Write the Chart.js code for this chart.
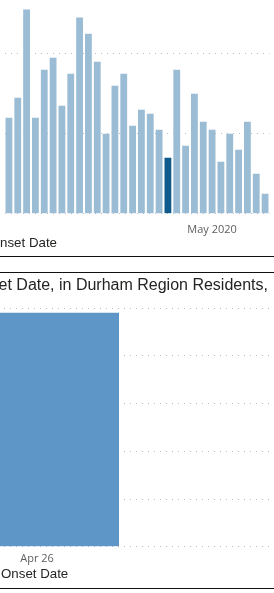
<!DOCTYPE html>
<html>
<head>
<meta charset="utf-8">
<script src="https://cdn.jsdelivr.net/npm/chart.js@4"></script>
<style>
body { margin: 0; width: 274px; height: 593px; overflow: hidden; position: relative; background: #fff; }
canvas { position: absolute; }
.rule { position: absolute; left: 0; width: 274px; height: 1px; background: #111; }
.axis-title { position: absolute; white-space: nowrap; font-family: 'Liberation Sans', sans-serif; font-size: 13.3px; line-height: 14px; color: #252423; }
.chart-title { position: absolute; right: 6px; top: 276px; white-space: nowrap; font-family: 'Liberation Sans', sans-serif; font-size: 16px; line-height: 18px; color: #252423; }
</style>
</head>
<body>
<canvas id="canvas_onset" width="274" height="245" style="left:0;top:0"></canvas>
<div class="axis-title" style="right:217px;top:236px">Onset Date</div>
<div class="rule" style="top:256px"></div>
<div class="rule" style="top:272px"></div>
<div class="chart-title">Cases by Onset Date, in Durham Region Residents,</div>
<canvas id="canvas_day" width="474" height="268" style="left:-200px;top:302px"></canvas>
<div class="axis-title" style="left:1px;top:567px">Onset Date</div>
<div class="rule" style="top:588px"></div>
<script>
// daily cases by onset date (top chart)
var onsetDates = ['Apr 8', 'Apr 9', 'Apr 10', 'Apr 11', 'Apr 12', 'Apr 13', 'Apr 14', 'Apr 15', 'Apr 16', 'Apr 17',
    'Apr 18', 'Apr 19', 'Apr 20', 'Apr 21', 'Apr 22', 'Apr 23', 'Apr 24', 'Apr 25', 'Apr 26', 'Apr 27',
    'Apr 28', 'Apr 29', 'Apr 30', 'May 1', 'May 2', 'May 3', 'May 4', 'May 5', 'May 6', 'May 7'];
var dailyCases = [24, 29, 51, 24, 36, 39, 27, 35, 49, 45,
    38, 20, 32, 35, 22, 26, 25, 21, 14, 36,
    17, 30, 23, 21, 13, 20, 16, 23, 10, 5];
var selectedDate = 'Apr 26';
var monthTickDate = 'May 1';
var monthTickLabel = 'May 2020';

// selected day (bottom chart)
var dayCategories = ['Apr 26'];
var dayCases = [49];

const LIGHT = '#9ABCD4';
const DARK = '#0E5A8C';
const DAY_BLUE = '#5F96C8';
const GRID = '#BEBCBA';
const TICK = '#605E5C';
const tickFont = { family: 'Open Sans', size: 11 };

const ctx = document.getElementById('canvas_onset').getContext('2d');
const chart1 = new Chart(ctx, {
    type: 'bar',
    data: {
        labels: onsetDates,
        datasets: [{
            data: dailyCases,
            backgroundColor: onsetDates.map(d => d === selectedDate ? DARK : LIGHT),
            barPercentage: 0.77,
            categoryPercentage: 1
        }]
    },
    options: {
        responsive: false,
        animation: false,
        layout: { padding: 0 },
        plugins: {
            legend: { display: false },
            tooltip: { enabled: false }
        },
        scales: {
            x: {
                grid: { display: false, drawTicks: false },
                border: { display: false },
                ticks: {
                    autoSkip: false,
                    maxRotation: 0,
                    padding: 9,
                    color: TICK,
                    font: tickFont,
                    callback: (v, i) => onsetDates[i] === monthTickDate ? monthTickLabel : ''
                }
            },
            y: {
                min: 0,
                max: 53.4,
                ticks: { display: false, stepSize: 20 },
                grid: {
                    drawTicks: false,
                    color: c => (c.tick && c.tick.value % 20 === 0) ? GRID : 'rgba(0,0,0,0)'
                },
                border: { display: false, dash: [1, 5] }
            }
        }
    }
});

const ctx_day = document.getElementById('canvas_day').getContext('2d');
const chart2 = new Chart(ctx_day, {
    type: 'bar',
    data: {
        labels: dayCategories,
        datasets: [{
            data: dayCases,
            backgroundColor: DAY_BLUE,
            barPercentage: 0.346,
            categoryPercentage: 1
        }]
    },
    options: {
        responsive: false,
        animation: false,
        layout: { padding: { top: 6 } },
        plugins: {
            legend: { display: false },
            tooltip: { enabled: false }
        },
        scales: {
            x: {
                grid: { display: false, drawTicks: false },
                border: { display: false },
                ticks: { maxRotation: 0, padding: 5, color: TICK, font: tickFont }
            },
            y: {
                min: 0,
                max: 50,
                ticks: { display: false, stepSize: 10 },
                grid: { drawTicks: false, color: GRID },
                border: { display: false, dash: [1, 5] }
            }
        }
    }
});
</script>
</body>
</html>
